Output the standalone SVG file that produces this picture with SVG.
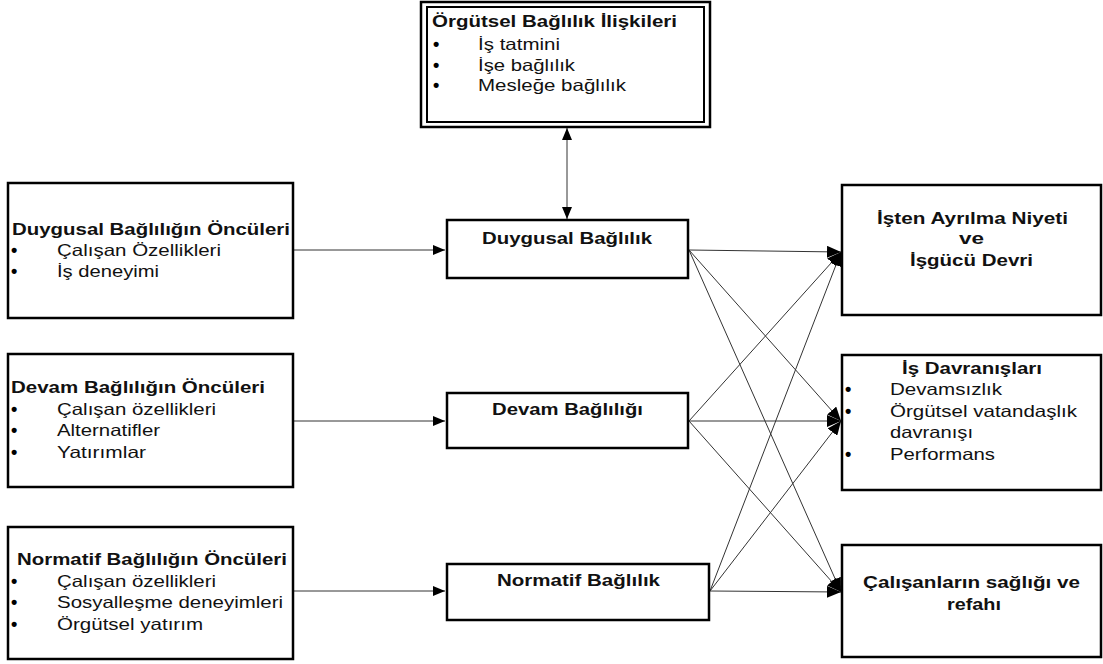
<svg xmlns="http://www.w3.org/2000/svg" width="1103" height="664" viewBox="0 0 1103 664">
<style>
.box{fill:#fff;stroke:#000;stroke-width:2.5}
.t{font-family:"Liberation Sans",Arial,sans-serif;font-size:16.5px;fill:#111}
.b{font-weight:bold}
.d{font-family:"Liberation Sans",Arial,sans-serif;font-size:18px;font-weight:bold;fill:#000}
.ln{stroke:#333;stroke-width:1;fill:none}
</style>
<defs>
<marker id="ah" viewBox="0 0 12 10" refX="12" refY="5" markerWidth="12" markerHeight="10" markerUnits="userSpaceOnUse" orient="auto-start-reverse">
<path d="M0,0 L12,5 L0,10 z" fill="#000"/>
</marker>
<marker id="ah2" viewBox="0 0 14 12" refX="14" refY="6" markerWidth="14" markerHeight="12" markerUnits="userSpaceOnUse" orient="auto">
<path d="M0,0 L14,6 L0,12 z" fill="#000"/>
</marker>
</defs>
<g id="connectors">
<line class="ln" x1="567" y1="128" x2="567" y2="219" marker-start="url(#ah)" marker-end="url(#ah)"/>
<line class="ln" x1="294" y1="250" x2="445" y2="250" marker-end="url(#ah)"/>
<line class="ln" x1="294" y1="421" x2="445" y2="421" marker-end="url(#ah)"/>
<line class="ln" x1="294" y1="591" x2="445" y2="591" marker-end="url(#ah)"/>
<line class="ln" x1="689" y1="250" x2="841" y2="252" marker-end="url(#ah2)"/>
<line class="ln" x1="689" y1="250" x2="841" y2="421" marker-end="url(#ah2)"/>
<line class="ln" x1="689" y1="250" x2="841" y2="592" marker-end="url(#ah2)"/>
<line class="ln" x1="689" y1="421" x2="841" y2="252" marker-end="url(#ah2)"/>
<line class="ln" x1="689" y1="421" x2="841" y2="421" marker-end="url(#ah2)"/>
<line class="ln" x1="689" y1="421" x2="841" y2="592" marker-end="url(#ah2)"/>
<line class="ln" x1="710" y1="591" x2="841" y2="252" marker-end="url(#ah2)"/>
<line class="ln" x1="710" y1="591" x2="841" y2="421" marker-end="url(#ah2)"/>
<line class="ln" x1="710" y1="591" x2="841" y2="592" marker-end="url(#ah2)"/>
</g>
<g id="iliskiler">
<rect x="421" y="2" width="289" height="125" fill="#fff" stroke="#000" stroke-width="2.5"/>
<rect x="427" y="7" width="277" height="115" fill="none" stroke="#000" stroke-width="2"/>
<text class="t b" x="432" y="27" textLength="245" lengthAdjust="spacingAndGlyphs">Örgütsel Bağlılık İlişkileri</text>
<text class="d" x="433" y="50">•</text><text class="t" x="478" y="50" textLength="82" lengthAdjust="spacingAndGlyphs">İş tatmini</text>
<text class="d" x="433" y="71">•</text><text class="t" x="478" y="71" textLength="97" lengthAdjust="spacingAndGlyphs">İşe bağlılık</text>
<text class="d" x="433" y="91">•</text><text class="t" x="478" y="91" textLength="148" lengthAdjust="spacingAndGlyphs">Mesleğe bağlılık</text>
</g>
<g id="duygusal-onculer">
<rect class="box" x="8" y="183" width="285" height="135"/>
<text class="t b" x="12" y="235" textLength="278" lengthAdjust="spacingAndGlyphs">Duygusal Bağlılığın Öncüleri</text>
<text class="d" x="11" y="256">•</text><text class="t" x="57" y="256" textLength="164" lengthAdjust="spacingAndGlyphs">Çalışan Özellikleri</text>
<text class="d" x="11" y="277">•</text><text class="t" x="57" y="277" textLength="102" lengthAdjust="spacingAndGlyphs">İş deneyimi</text>
</g>
<g id="devam-onculer">
<rect class="box" x="8" y="354" width="285" height="133"/>
<text class="t b" x="11" y="393" textLength="254" lengthAdjust="spacingAndGlyphs">Devam Bağlılığın Öncüleri</text>
<text class="d" x="11" y="415">•</text><text class="t" x="57" y="415" textLength="159" lengthAdjust="spacingAndGlyphs">Çalışan özellikleri</text>
<text class="d" x="11" y="436">•</text><text class="t" x="57" y="436" textLength="103" lengthAdjust="spacingAndGlyphs">Alternatifler</text>
<text class="d" x="11" y="458">•</text><text class="t" x="57" y="458" textLength="89" lengthAdjust="spacingAndGlyphs">Yatırımlar</text>
</g>
<g id="normatif-onculer">
<rect class="box" x="8" y="527" width="285" height="132"/>
<text class="t b" x="17" y="565" textLength="270" lengthAdjust="spacingAndGlyphs">Normatif Bağlılığın Öncüleri</text>
<text class="d" x="11" y="587">•</text><text class="t" x="57" y="587" textLength="159" lengthAdjust="spacingAndGlyphs">Çalışan özellikleri</text>
<text class="d" x="11" y="608">•</text><text class="t" x="57" y="608" textLength="226" lengthAdjust="spacingAndGlyphs">Sosyalleşme deneyimleri</text>
<text class="d" x="11" y="630">•</text><text class="t" x="57" y="630" textLength="146" lengthAdjust="spacingAndGlyphs">Örgütsel yatırım</text>
</g>
<g id="duygusal">
<rect class="box" x="447" y="220" width="241" height="58"/>
<text class="t b" x="482" y="244" textLength="170" lengthAdjust="spacingAndGlyphs">Duygusal Bağlılık</text>
</g>
<g id="devam">
<rect class="box" x="447" y="393" width="241" height="55"/>
<text class="t b" x="492" y="415" textLength="151" lengthAdjust="spacingAndGlyphs">Devam Bağlılığı</text>
</g>
<g id="normatif">
<rect class="box" x="447" y="564" width="262" height="56"/>
<text class="t b" x="497" y="586" textLength="163" lengthAdjust="spacingAndGlyphs">Normatif Bağlılık</text>
</g>
<g id="ayrilma">
<rect class="box" x="842" y="185" width="259" height="130"/>
<text class="t b" x="877" y="224" textLength="191" lengthAdjust="spacingAndGlyphs">İşten Ayrılma Niyeti</text>
<text class="t b" x="959" y="244" textLength="25" lengthAdjust="spacingAndGlyphs">ve</text>
<text class="t b" x="910" y="266" textLength="123" lengthAdjust="spacingAndGlyphs">İşgücü Devri</text>
</g>
<g id="davranislar">
<rect class="box" x="842" y="355" width="259" height="135"/>
<text class="t b" x="902" y="374" textLength="140" lengthAdjust="spacingAndGlyphs">İş Davranışları</text>
<text class="d" x="845" y="395">•</text><text class="t" x="890" y="395" textLength="112" lengthAdjust="spacingAndGlyphs">Devamsızlık</text>
<text class="d" x="845" y="417">•</text><text class="t" x="890" y="417" textLength="187" lengthAdjust="spacingAndGlyphs">Örgütsel vatandaşlık</text>
<text class="t" x="890" y="438" textLength="83" lengthAdjust="spacingAndGlyphs">davranışı</text>
<text class="d" x="845" y="460">•</text><text class="t" x="890" y="460" textLength="105" lengthAdjust="spacingAndGlyphs">Performans</text>
</g>
<g id="saglik">
<rect class="box" x="842" y="545" width="259" height="112"/>
<text class="t b" x="863" y="588" textLength="217" lengthAdjust="spacingAndGlyphs">Çalışanların sağlığı ve</text>
<text class="t b" x="947" y="610" textLength="54" lengthAdjust="spacingAndGlyphs">refahı</text>
</g>
</svg>
